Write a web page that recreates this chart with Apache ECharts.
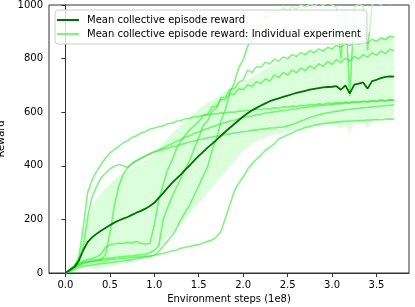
<!DOCTYPE html>
<html><head><meta charset="utf-8">
<script src="https://cdn.jsdelivr.net/npm/echarts@6/dist/echarts.min.js"></script>
<style>html,body{margin:0;padding:0;background:#fff}#c{width:415px;height:307px}</style>
</head><body><div id="c"></div>
<script>
// Environment steps (1e8)
const steps = [0.00,0.05,0.10,0.15,0.20,0.25,0.30,0.35,0.40,0.45,
0.50,0.55,0.60,0.65,0.70,0.75,0.80,0.85,0.90,0.95,
1.00,1.05,1.10,1.15,1.20,1.25,1.30,1.35,1.40,1.45,
1.50,1.55,1.60,1.65,1.70,1.75,1.80,1.85,1.90,1.95,
2.00,2.05,2.10,2.15,2.20,2.25,2.30,2.35,2.40,2.45,
2.50,2.55,2.60,2.65,2.70,2.75,2.80,2.85,2.90,2.95,
3.00,3.05,3.10,3.15,3.20,3.25,3.30,3.35,3.40,3.45,
3.50,3.55,3.60,3.65,3.70];

const meanReward = [0,12,22,45,85,115,133,146,158,168,
178,188,196,203,209,217,225,232,240,250,
262,280,298,318,336,352,368,386,402,420,
437,452,468,482,497,512,527,542,556,570,
584,596,607,616,625,633,641,647,652,657,
662,667,672,676,680,684,687,690,693,694,
695,697,684,700,670,703,707,711,688,716,
721,727,732,734,733];

const stdReward = [0,5,10,30,60,95,115,130,140,148,
155,160,165,168,172,175,178,180,180,180,
180,182,184,185,185,185,185,183,180,178,
175,172,168,163,158,153,150,146,140,135,
130,127,125,125,126,128,130,132,133,134,
135,136,137,138,139,140,140,141,142,143,
144,145,145,146,147,147,148,148,149,149,
150,150,150,150,150];

const run1 = [0,8,25,55,170,300,348,378,405,428,
448,460,472,486,494,506,512,522,528,537,
541,546,549,557,559,566,569,576,577,583,
584,589,590,594,593,598,597,601,600,604,
605,607,606,611,609,614,612,617,615,620,
618,623,621,626,624,629,627,631,629,634,
632,636,634,638,636,640,638,642,640,644,
641,646,643,647,645];

const run2 = [0,10,28,50,95,210,285,322,355,372,
388,398,405,400,394,410,420,428,437,444,
452,455,462,466,471,474,480,483,490,492,
498,500,505,507,511,513,518,519,523,524,
528,529,533,533,537,537,541,541,544,545,
549,554,560,567,573,580,585,590,594,598,
601,604,606,609,611,613,615,617,618,620,
621,623,624,626,627];

const run3 = [0,6,18,28,36,40,44,46,50,68,
150,250,325,368,392,408,418,428,436,446,
452,461,466,476,482,492,498,507,512,521,
526,534,538,546,550,557,561,567,570,576,
579,584,586,591,592,597,598,602,603,607,
608,612,613,617,617,621,621,625,625,628,
628,631,631,634,634,637,636,639,638,641,
640,643,642,645,644];

const run4 = [0,12,25,35,45,50,55,60,70,95,
105,108,112,110,115,112,118,110,108,110,
180,272,330,385,420,465,492,515,535,550,
565,588,592,620,622,648,646,670,666,688,
684,702,696,714,706,725,716,739,729,748,
739,757,747,765,755,773,763,781,771,789,
779,796,785,802,791,808,798,815,805,822,
812,829,818,835,830];

const run5 = [0,10,20,30,36,40,42,45,47,48,
50,52,53,55,56,58,60,60,62,63,
66,80,100,120,140,165,200,228,255,290,
325,362,396,458,500,566,610,672,710,766,
795,846,870,912,925,955,958,980,964,990,
978,992,985,1000,990,1005,995,1010,998,1012,
1000,990,800,985,660,990,1005,995,830,1000,
1015,1000,1020,1005,1010];

const run6 = [0,12,24,34,40,44,47,50,52,54,
56,58,60,61,63,64,66,68,70,75,
85,100,200,245,285,320,355,390,421,465,
505,550,568,605,615,655,655,685,688,712,
720,757,748,770,768,786,780,798,790,806,
800,815,808,822,815,830,822,836,828,842,
836,849,842,855,848,861,853,866,858,872,
864,878,870,884,880];

const run7 = [0,5,12,20,25,28,30,33,35,37,
38,41,43,45,48,50,53,56,60,63,
66,70,73,78,82,86,92,96,100,103,
106,112,118,123,135,155,205,255,305,335,
358,388,408,425,440,458,470,482,500,508,
516,522,532,536,543,547,551,555,558,560,
562,563,565,566,567,567,569,569,571,571,
573,572,574,575,574];

const xTicks = [0, 0.5, 1.0, 1.5, 2.0, 2.5, 3.0, 3.5];

const MEAN_NAME = 'Mean collective episode reward';
const IND_NAME = 'Mean collective episode reward: Individual experiment';
const indColor = 'rgba(40,240,40,0.6)';
const paleColor = 'rgba(185,255,185,0.85)';
const bandColor = 'rgba(0,255,0,0.14)';
const meanColor = '#007000';
const FONT = 'DejaVu Sans';

const runs = [run1, run2, run3, run4, run5, run6, run7];
const PALE_RUN = 4;      // run5 turns pale near the top
const PALE_ABOVE = 900;
const pairs = arr => steps.map((s, i) => [s, arr[i]]);

function buildSeries(paleGradient) {
  const series = [{
    type: 'custom', name: 'band', silent: true, clip: true, z: 1,
    data: [[0, 0]],
    renderItem: function (params, api) {
      const up = [], lo = [];
      for (let i = 0; i < steps.length; i++) {
        up.push(api.coord([steps[i], meanReward[i] + stdReward[i]]));
        lo.push(api.coord([steps[i], meanReward[i] - stdReward[i]]));
      }
      return { type: 'polygon', shape: { points: up.concat(lo.reverse()) }, style: { fill: bandColor } };
    }
  }];
  runs.forEach((r, k) => series.push({
    type: 'line', name: IND_NAME, data: pairs(r), symbol: 'none', silent: true, clip: true, z: 2,
    lineStyle: { color: (k === PALE_RUN && paleGradient) ? paleGradient : indColor, width: 1.6 },
    itemStyle: { color: indColor }
  }));
  series.push({
    type: 'line', name: MEAN_NAME, data: pairs(meanReward), symbol: 'none', silent: true, clip: true, z: 3,
    lineStyle: { color: meanColor, width: 1.8 }, itemStyle: { color: meanColor }
  });
  return series;
}

const chart = echarts.init(document.getElementById('c'), null, { renderer: 'canvas' });
chart.setOption({
  animation: false,
  backgroundColor: '#fff',
  textStyle: { fontFamily: FONT },
  grid: { left: 49, right: 6, top: 5, bottom: 34, containLabel: false, outerBoundsMode: 'none',
          show: true, borderColor: '#333', borderWidth: 1, backgroundColor: 'transparent' },
  legend: {
    left: 55, top: 10, orient: 'vertical',
    data: [MEAN_NAME, IND_NAME],
    icon: 'rect',
    itemWidth: 22, itemHeight: 2, itemGap: 4,
    padding: [5, 6, 5, 2],
    backgroundColor: 'rgba(255,255,255,0.8)', borderColor: '#cccccc', borderWidth: 1, borderRadius: 3,
    textStyle: { fontSize: 10, color: '#000', fontFamily: FONT, padding: [0, 0, 0, 3] },
    selectedMode: false
  },
  xAxis: {
    type: 'value', min: -0.185, max: 3.866,
    name: 'Environment steps (1e8)', nameLocation: 'middle', nameGap: 20,
    nameTextStyle: { fontSize: 10, color: '#000', fontFamily: FONT },
    axisLine: { show: true, onZero: false, lineStyle: { color: '#333', width: 1 } },
    axisTick: { show: true, length: 4, lineStyle: { color: '#333' }, customValues: xTicks },
    axisLabel: { fontSize: 10, color: '#000', margin: 7, fontFamily: FONT, customValues: xTicks, formatter: v => v.toFixed(1) },
    splitLine: { show: false }
  },
  yAxis: {
    type: 'value', min: 0, max: 1000, interval: 200,
    name: 'Reward', nameLocation: 'middle', nameGap: 40,
    nameTextStyle: { fontSize: 10, color: '#000', fontFamily: FONT },
    axisLine: { show: true, lineStyle: { color: '#333', width: 1 } },
    axisTick: { show: true, length: 4, lineStyle: { color: '#333' } },
    axisLabel: { fontSize: 10, color: '#000', margin: 6, fontFamily: FONT, formatter: v => String(v) },
    splitLine: { show: false }
  },
  series: buildSeries(null)
});

// pale colour above the threshold for the run that goes off the top
const yPix = chart.convertToPixel({ gridIndex: 0 }, [0, PALE_ABOVE])[1];
const H = 307, f = Math.max(0, Math.min(1, yPix / H));
const grad = new echarts.graphic.LinearGradient(0, 0, 0, H, [
  { offset: 0, color: paleColor }, { offset: f, color: paleColor },
  { offset: f, color: indColor }, { offset: 1, color: indColor }
], true);
chart.setOption({ series: buildSeries(grad) });
</script></body></html>
